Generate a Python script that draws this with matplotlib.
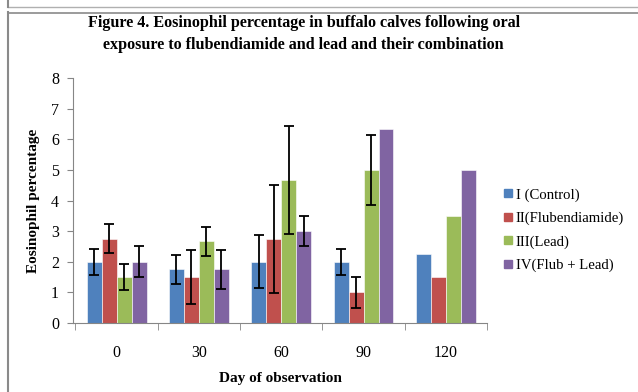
import matplotlib
matplotlib.use("Agg")
import matplotlib.pyplot as plt
import numpy as np
from matplotlib.lines import Line2D

days = ["0", "30", "60", "90", "120"]
series = ["I (Control)", "II(Flubendiamide)", "III(Lead)", "IV(Flub + Lead)"]
control = [2.0, 1.75, 2.0, 2.0, 2.25]
flub = [2.75, 1.5, 2.75, 1.0, 1.5]
lead = [1.5, 2.67, 4.67, 5.0, 3.5]
combo = [2.0, 1.75, 3.0, 6.33, 5.0]
control_err = [0.42, 0.48, 0.87, 0.43, None]
flub_err = [0.48, 0.88, 1.76, 0.5, None]
lead_err = [0.43, 0.48, 1.77, 1.15, None]
combo_err = [0.5, 0.65, 0.5, None, None]

colors = ["#4F81BD", "#C0504D", "#9BBB59", "#8064A2"]
serif = "Liberation Serif"

fig = plt.figure(figsize=(6.38, 3.92), dpi=100)
ax = fig.add_axes([0.1144, 0.176, 0.6489, 0.625])

x = np.arange(len(days))
w = 0.182
vals = [control, flub, lead, combo]
errs = [control_err, flub_err, lead_err, combo_err]
for i, (v, e, c) in enumerate(zip(vals, errs, colors)):
    pos = x + (i - 1.5) * w
    ax.bar(pos, v, width=w, color=c, edgecolor="white", linewidth=0.4, zorder=2)
    ex = [p for p, ee in zip(pos, e) if ee is not None]
    ey = [vv for vv, ee in zip(v, e) if ee is not None]
    ee_ = [ee for ee in e if ee is not None]
    ax.errorbar(ex, ey, yerr=ee_, fmt="none", ecolor="black", elinewidth=1.3,
                capsize=3.5, capthick=1.3, zorder=3)

ax.set_xlim(-0.53, 4.5)
ax.set_ylim(0, 8)
ax.set_yticks(range(0, 9))
ax.set_xticks(x)
ax.set_xticklabels(days)
ax.set_xticks(np.arange(-0.5, 5.0, 1.0), minor=True)
ax.tick_params(axis="x", which="major", length=0, pad=16)
ax.tick_params(axis="x", which="minor", length=5, color="#868686", direction="out")
ax.tick_params(axis="y", length=4, color="#868686", direction="out", pad=6)
for lab in ax.get_xticklabels() + ax.get_yticklabels():
    lab.set_fontfamily(serif)
    lab.set_fontsize(11.5)
for s in ["top", "right"]:
    ax.spines[s].set_visible(False)
for s in ["left", "bottom"]:
    ax.spines[s].set_color("#868686")
    ax.spines[s].set_linewidth(0.8)

ax.set_ylabel("Eosinophil percentage", fontfamily=serif, fontweight="bold", fontsize=11, labelpad=8)
ax.set_xlabel("Day of observation", fontfamily=serif, fontweight="bold", fontsize=11, labelpad=8)

fig.text(0.476, 0.913, "Figure 4. Eosinophil percentage in buffalo calves following oral\nexposure to flubendiamide and lead and their combination",
         ha="center", va="center", fontfamily=serif, fontweight="bold", fontsize=11.6, linespacing=1.45)

handles = [Line2D([0], [0], marker="s", linestyle="none", markersize=5.5,
                  markerfacecolor=c, markeredgecolor=c) for c in colors]
leg = fig.legend(handles, series, loc="center left", bbox_to_anchor=(0.768, 0.413),
                 frameon=False, prop={"family": serif, "size": 10.6},
                 handlelength=0.6, handletextpad=0.25, labelspacing=0.68)

# outer frame lines
fig.add_artist(Line2D([0.012, 0.012], [0, 0.969], transform=fig.transFigure, color="#8a8a8a", linewidth=1.5))
fig.add_artist(Line2D([0.012, 1.0], [0.968, 0.968], transform=fig.transFigure, color="#8a8a8a", linewidth=1.2))
fig.add_artist(Line2D([0.012, 1.0], [0.981, 0.981], transform=fig.transFigure, color="#b0b0b0", linewidth=1.0))
fig.add_artist(Line2D([0.012, 0.012], [0.981, 1.0], transform=fig.transFigure, color="#8a8a8a", linewidth=1.5))

fig.savefig("out.png", dpi=100)
